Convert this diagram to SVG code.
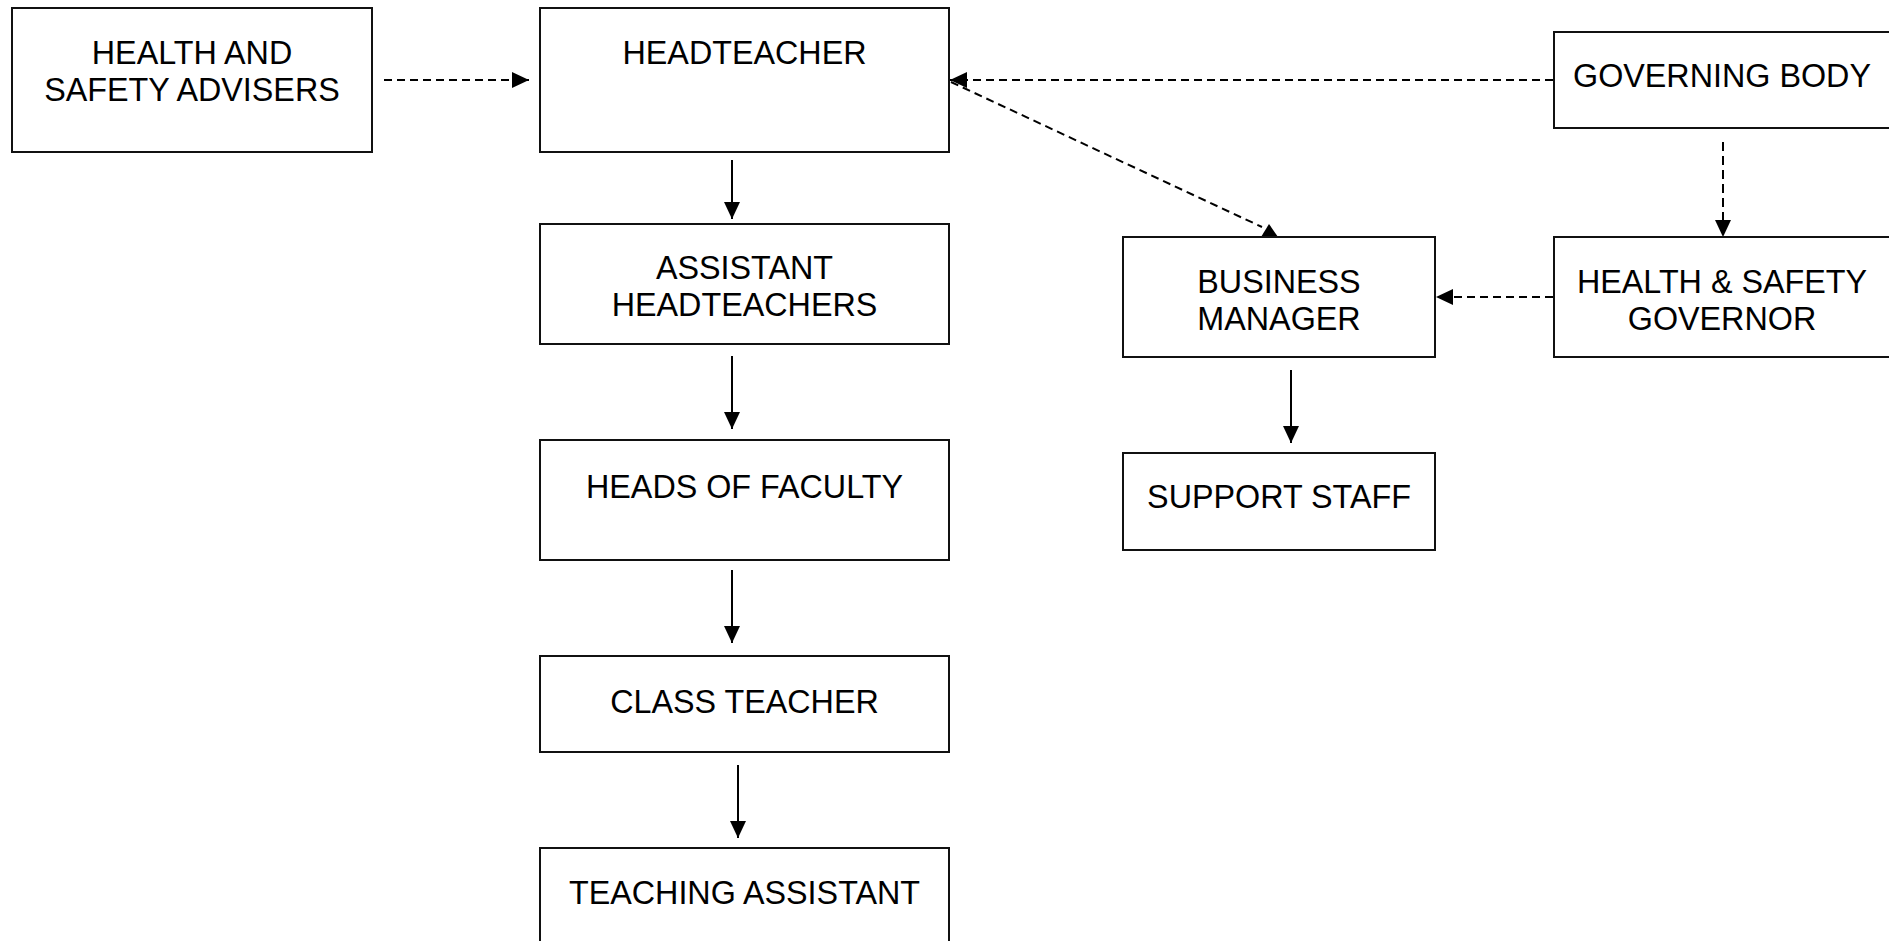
<svg xmlns="http://www.w3.org/2000/svg" width="1889" height="941" viewBox="0 0 1889 941">
  <style>
    .box { fill: #fff; stroke: #111; stroke-width: 2; }
    .lbl { font-family: "Liberation Sans", Arial, sans-serif; font-size: 32.3px; fill: #000; text-anchor: middle; }
    .solid { stroke: #000; stroke-width: 2; fill: none; marker-end: url(#head); }
    .dash { stroke: #000; stroke-width: 2; fill: none; stroke-dasharray: 8 5; marker-end: url(#head); }
  </style>
  <defs>
    <marker id="head" markerUnits="userSpaceOnUse" markerWidth="17" markerHeight="16" refX="17" refY="8" orient="auto">
      <path d="M0,0 L17,8 L0,16 z" fill="#000"/>
    </marker>
  </defs>
  <rect width="1889" height="941" fill="#fff"/>

  <g id="connectors">
    <!-- dashed advisory lines -->
    <line class="dash" x1="384" y1="80" x2="529" y2="80"/>
    <line class="dash" x1="1553" y1="80" x2="950" y2="80"/>
    <line x1="951" y1="82" x2="1262" y2="227" stroke="#000" stroke-width="2" stroke-dasharray="8 5"/>
    <polygon points="1269,224 1261,237 1278,237" fill="#000"/>
    <line class="dash" x1="1723" y1="142" x2="1723" y2="237" style="stroke-dasharray: 9 5"/>
    <line class="dash" x1="1553" y1="297" x2="1436" y2="297"/>
    <!-- solid line-management arrows -->
    <line class="solid" x1="732" y1="160" x2="732" y2="219"/>
    <line class="solid" x1="732" y1="356" x2="732" y2="429"/>
    <line class="solid" x1="732" y1="570" x2="732" y2="643"/>
    <line class="solid" x1="738" y1="765" x2="738" y2="838"/>
    <line class="solid" x1="1291" y1="370" x2="1291" y2="443"/>
  </g>

  <g id="health-safety-advisers">
    <rect class="box" x="12" y="8" width="360" height="144"/>
    <text class="lbl" x="192" y="64">HEALTH AND</text>
    <text class="lbl" x="192" y="101">SAFETY ADVISERS</text>
  </g>
  <g id="headteacher">
    <rect class="box" x="540" y="8" width="409" height="144"/>
    <text class="lbl" x="744.5" y="64">HEADTEACHER</text>
  </g>
  <g id="assistant-headteachers">
    <rect class="box" x="540" y="224" width="409" height="120"/>
    <text class="lbl" x="744.5" y="279">ASSISTANT</text>
    <text class="lbl" x="744.5" y="316">HEADTEACHERS</text>
  </g>
  <g id="heads-of-faculty">
    <rect class="box" x="540" y="440" width="409" height="120"/>
    <text class="lbl" x="744.5" y="498">HEADS OF FACULTY</text>
  </g>
  <g id="class-teacher">
    <rect class="box" x="540" y="656" width="409" height="96"/>
    <text class="lbl" x="744.5" y="713">CLASS TEACHER</text>
  </g>
  <g id="teaching-assistant">
    <rect class="box" x="540" y="848" width="409" height="120"/>
    <text class="lbl" x="744.5" y="904">TEACHING ASSISTANT</text>
  </g>
  <g id="governing-body">
    <rect class="box" x="1554" y="32" width="360" height="96"/>
    <text class="lbl" x="1722" y="87">GOVERNING BODY</text>
  </g>
  <g id="business-manager">
    <rect class="box" x="1123" y="237" width="312" height="120"/>
    <text class="lbl" x="1279" y="293">BUSINESS</text>
    <text class="lbl" x="1279" y="330">MANAGER</text>
  </g>
  <g id="health-safety-governor">
    <rect class="box" x="1554" y="237" width="360" height="120"/>
    <text class="lbl" x="1722" y="293">HEALTH &amp; SAFETY</text>
    <text class="lbl" x="1722" y="330">GOVERNOR</text>
  </g>
  <g id="support-staff">
    <rect class="box" x="1123" y="453" width="312" height="97"/>
    <text class="lbl" x="1279" y="508">SUPPORT STAFF</text>
  </g>
</svg>
